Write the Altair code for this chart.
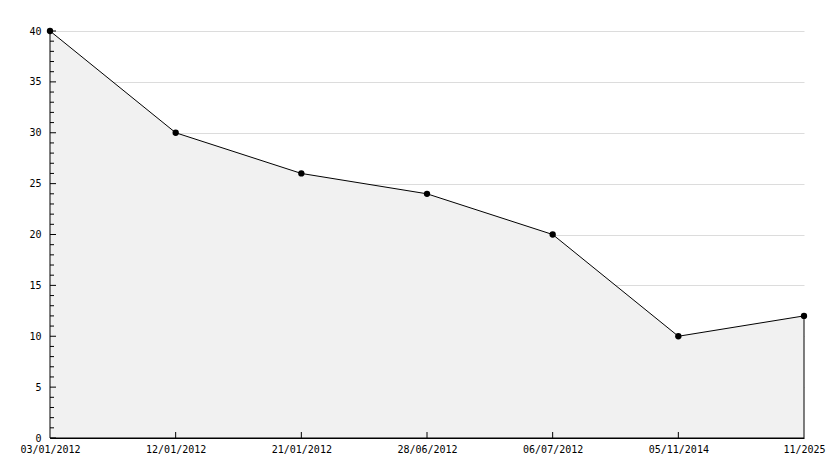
import altair as alt
import pandas as pd

dates = ["03/01/2012", "12/01/2012", "21/01/2012", "28/06/2012", "06/07/2012", "05/11/2014", "11/2025"]
values = [40, 30, 26, 24, 20, 10, 12]
y_major = [0, 5, 10, 15, 20, 25, 30, 35, 40]
y_minor = [v for v in range(0, 41) if v % 5 != 0]

W, H = 754, 407
FONT = "DejaVu Sans Mono"

df = pd.DataFrame({"date": dates, "value": values})
df_major = pd.DataFrame({"v": y_major})
df_minor = pd.DataFrame({"v": y_minor})
df_xt = pd.DataFrame({"date": dates[1:-1]})

xenc = alt.X("date:N", sort=None, scale=alt.Scale(type="point", padding=0),
             axis=alt.Axis(title=None, labelAngle=0, tickSize=0, labelPadding=6,
                           domainColor="black", labelFont=FONT, labelFontSize=10,
                           labelColor="black", grid=False))
yscale = alt.Scale(domain=[0, 40], nice=False, zero=True)
yenc = alt.Y("value:Q", scale=yscale,
             axis=alt.Axis(title=None, values=y_major, tickSize=0, labelPadding=9,
                           domainColor="black", labelFont=FONT, labelFontSize=10,
                           labelColor="black", grid=True, gridColor="#dcdcdc"))

base = alt.Chart(df)
area = base.mark_area(fill="#f1f1f1", stroke="black", strokeWidth=1).encode(x=xenc, y=yenc)
pts = base.mark_point(filled=True, color="black", shape="circle", size=40, opacity=1).encode(
    x=alt.X("date:N", sort=None), y=alt.Y("value:Q"))

major = alt.Chart(df_major).mark_rule(color="black", strokeWidth=1).encode(
    y=alt.Y("v:Q", scale=yscale), x=alt.value(0), x2=alt.value(6))
minor = alt.Chart(df_minor).mark_rule(color="black", strokeWidth=1).encode(
    y=alt.Y("v:Q", scale=yscale), x=alt.value(0), x2=alt.value(4))
xt = alt.Chart(df_xt).mark_rule(color="black", strokeWidth=1).encode(
    x=alt.X("date:N", sort=None), y=alt.value(H), y2=alt.value(H - 6))

chart = alt.layer(area, major, minor, xt, pts).properties(
    width=W, height=H,
    autosize=alt.AutoSizeParams(type="none"),
    padding={"left": 42, "top": 23, "right": 22, "bottom": 20},
    background="white",
).configure_view(stroke=None)

chart.save("out.html", embed_options={"renderer": "svg", "actions": False})
